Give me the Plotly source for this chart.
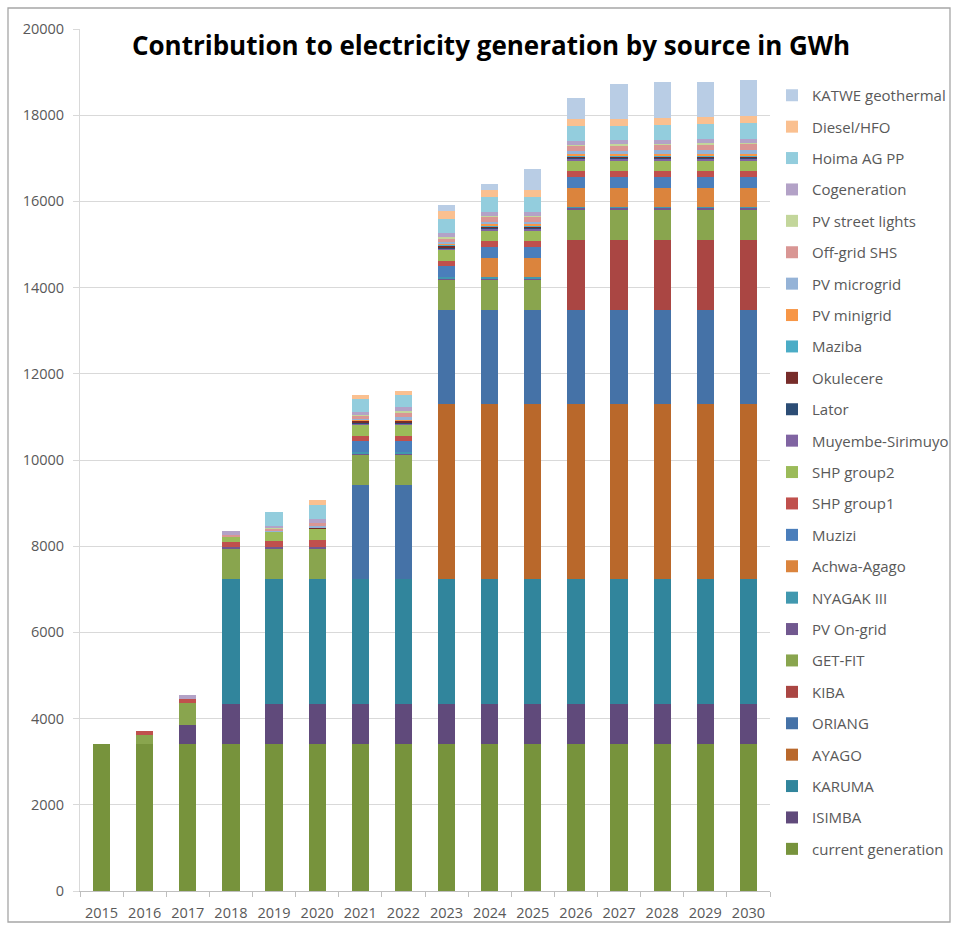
import plotly.graph_objects as go

years = [str(y) for y in range(2015, 2031)]

# GWh contributed by each source, stacked bottom to top
current_generation = [3400] * 16
isimba = [0, 0, 460] + [950] * 13
karuma = [0, 0, 0] + [2890] * 13
ayago = [0] * 8 + [4060] * 8
oriang = [0] * 6 + [2180] * 10
kiba = [0] * 11 + [1630] * 5
get_fit = [0, 230, 500] + [700] * 13
pv_on_grid = [0, 0, 0] + [40] * 13
nyagak_iii = [0] * 6 + [20] * 10
achwa_agago = [0] * 9 + [450] * 7
muzizi = [0] * 6 + [250] * 10
shp_group1 = [0, 80, 90, 120, 150, 170] + [130] * 10
shp_group2 = [0, 0, 0, 110, 200, 240] + [260] * 10
muyembe_sirimuyo = [0] * 6 + [30] * 10
lator = [0] * 6 + [25] * 10
okulecere = [0] * 5 + [50] + [35] * 10
maziba = [0] * 8 + [20] * 8
pv_minigrid = [0] * 6 + [20, 20, 20] + [30] * 7
pv_microgrid = [0, 0, 0, 0, 20, 30, 30, 60, 50, 60, 60, 80, 80, 85, 90, 95]
off_grid_shs = [0, 0, 0, 60, 60, 70, 70, 110, 90, 110, 110, 120, 125, 130, 135, 140]
pv_street_lights = [0, 0, 0, 0, 10, 10, 10, 30, 30, 30, 30, 20, 20, 20, 20, 20]
cogeneration = [0, 0, 100, 80, 60, 80, 80, 100, 80, 90, 90, 90, 95, 95, 95, 95]
hoima_ag_pp = [0, 0, 0, 0, 320, 320, 290, 270, 330, 340, 340, 330, 330, 340, 350, 360]
diesel_hfo = [0, 0, 0, 0, 0, 120, 100, 100, 180, 170, 170, 170, 170, 170, 170, 180]
katwe_geothermal = [0] * 8 + [140, 140, 475, 490, 810, 820, 820, 820]

series = [
    ("current generation", current_generation, "#77933C"),
    ("ISIMBA", isimba, "#604A7B"),
    ("KARUMA", karuma, "#31859C"),
    ("AYAGO", ayago, "#B9682B"),
    ("ORIANG", oriang, "#4572A7"),
    ("KIBA", kiba, "#AA4643"),
    ("GET-FIT", get_fit, "#89A54E"),
    ("PV On-grid", pv_on_grid, "#71588F"),
    ("NYAGAK III", nyagak_iii, "#4198AF"),
    ("Achwa-Agago", achwa_agago, "#DB843D"),
    ("Muzizi", muzizi, "#4A7EBB"),
    ("SHP group1", shp_group1, "#C0504D"),
    ("SHP group2", shp_group2, "#9BBB59"),
    ("Muyembe-Sirimuyo", muyembe_sirimuyo, "#8064A2"),
    ("Lator", lator, "#2C4D75"),
    ("Okulecere", okulecere, "#772C2A"),
    ("Maziba", maziba, "#4BACC6"),
    ("PV minigrid", pv_minigrid, "#F79646"),
    ("PV microgrid", pv_microgrid, "#95B3D7"),
    ("Off-grid SHS", off_grid_shs, "#D99694"),
    ("PV street lights", pv_street_lights, "#C3D69B"),
    ("Cogeneration", cogeneration, "#B3A2C7"),
    ("Hoima AG PP", hoima_ag_pp, "#93CDDD"),
    ("Diesel/HFO", diesel_hfo, "#FAC090"),
    ("KATWE geothermal", katwe_geothermal, "#B9CDE5"),
]

y_ticks = list(range(0, 20001, 2000))

FONT = "Open Sans"
TEXT = "#595959"

fig = go.Figure()
n = len(series)
for i, (name, values, color) in enumerate(series):
    fig.add_trace(go.Bar(
        x=years, y=values, name=name, legendgroup=name,
        legendrank=n - i,  # top of the stack listed first
        marker=dict(color=color, line=dict(width=0)),
    ))

L, R, T, B = 80, 186, 29, 37
W, H = 956, 928
pw, ph = W - L - R, H - T - B

fig.update_layout(
    width=W, height=H,
    margin=dict(l=L, r=R, t=T, b=B, autoexpand=False),
    paper_bgcolor="white", plot_bgcolor="white",
    barmode="stack", bargap=0.6,
    font=dict(family=FONT, size=12, color=TEXT),
    title=dict(
        text="<b>Contribution to electricity generation by source in GWh</b>",
        x=491 / W, xanchor="center", y=1 - 46 / H, yanchor="middle",
        font=dict(family=FONT, size=26, color="#000000"),
    ),
    legend=dict(
        traceorder="grouped", tracegroupgap=8.9,
        x=(772 - L) / pw, xanchor="left", y=1 - (79 - T) / ph, yanchor="top",
        font=dict(family=FONT, size=15, color=TEXT),
        bgcolor="rgba(0,0,0,0)",
    ),
    xaxis=dict(
        type="category", showgrid=False,
        showline=True, linecolor="#BFBFBF", linewidth=1,
        ticks="outside", tickson="boundaries", ticklen=5, tickcolor="#BFBFBF",
        ticklabelstandoff=9, tickangle=0,
        tickfont=dict(family=FONT, size=14.5, color=TEXT),
    ),
    yaxis=dict(
        range=[0, 20000], tickvals=y_ticks, ticktext=[str(v) for v in y_ticks],
        showgrid=True, gridcolor="#D9D9D9", gridwidth=1,
        showline=True, linecolor="#D9D9D9", linewidth=1,
        ticks="outside", ticklen=6, tickcolor="#D9D9D9",
        ticklabelstandoff=6,
        tickfont=dict(family=FONT, size=14.5, color=TEXT),
        zeroline=False,
    ),
)

# chart area frame
fig.add_shape(
    type="rect", xref="paper", yref="paper",
    x0=(8 - L) / pw, x1=(950 - L) / pw,
    y0=-(922 - (H - B)) / ph, y1=1 + (T - 8) / ph,
    line=dict(color="#A6A6A6", width=1.3), fillcolor="rgba(0,0,0,0)", layer="below",
)

fig.write_html("out.html")
